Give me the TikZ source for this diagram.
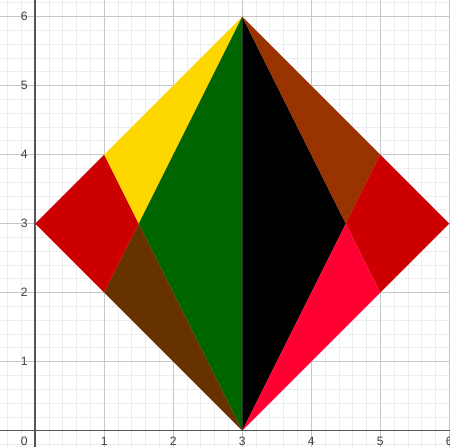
\documentclass[tikz,border=0pt]{standalone}
\usepackage{fontspec}
\setmainfont{Liberation Sans}
\usepackage{xcolor}
\usetikzlibrary{positioning}
\definecolor{kred}{HTML}{CC0000}
\definecolor{kgold}{HTML}{FFD700}
\definecolor{kgreen}{HTML}{006400}
\definecolor{kbrown}{HTML}{663300}
\definecolor{krust}{HTML}{993300}
\definecolor{kpink}{HTML}{FF0033}
\definecolor{kaxis}{HTML}{555555}

\begin{document}
\begin{tikzpicture}[
  minorgrid/.style={draw=black!7, line width=0.3pt},
  majorgrid/.style={draw=black!22, line width=0.4pt},
  axisline/.style={draw=kaxis, line width=0.6pt},
  ticklabel/.style={font=\fontsize{5}{6}\selectfont, text=black!75, inner sep=0.5pt}
]
\useasboundingbox (-0.51,-0.23) rectangle (6.01,6.24);
\fill[white] (-0.51,-0.23) rectangle (6.01,6.24);

% grid
\draw[minorgrid] (-0.6,-0.4) grid[step=0.2] (6.2,6.4);
\draw[majorgrid] (-0.6,-0.4) grid[step=1] (6.2,6.4);

% vertices
\coordinate (L) at (0,3);
\coordinate (T) at (3,6);
\coordinate (R) at (6,3);
\coordinate (B) at (3,0);
\coordinate (ul) at (1,4);
\coordinate (ll) at (1,2);
\coordinate (ml) at (1.5,3);
\coordinate (ur) at (5,4);
\coordinate (lr) at (5,2);
\coordinate (mr) at (4.5,3);

% pieces
\fill[kred] (L) -- (ul) -- (ml) -- (ll) -- cycle;
\fill[kgold] (ul) -- (T) -- (ml) -- cycle;
\fill[kgreen] (ml) -- (T) -- (B) -- cycle;
\fill[kbrown] (ll) -- (ml) -- (B) -- cycle;
\fill[black] (T) -- (mr) -- (B) -- cycle;
\fill[krust] (T) -- (ur) -- (mr) -- cycle;
\fill[kred] (ur) -- (R) -- (lr) -- (mr) -- cycle;
\fill[kpink] (mr) -- (lr) -- (B) -- cycle;

% axes
\draw[axisline] (-0.6,0) -- (6.2,0);
\draw[axisline] (0,-0.4) -- (0,6.4);

% labels
\node[ticklabel] (x0) at (-0.16,-0.15) {0};
\foreach \k in {1,...,6} {
  \node[ticklabel] (x\k) at (\k,-0.15) {\k};
  \node[ticklabel] (y\k) at (-0.16,\k) {\k};
}
\end{tikzpicture}
\end{document}
